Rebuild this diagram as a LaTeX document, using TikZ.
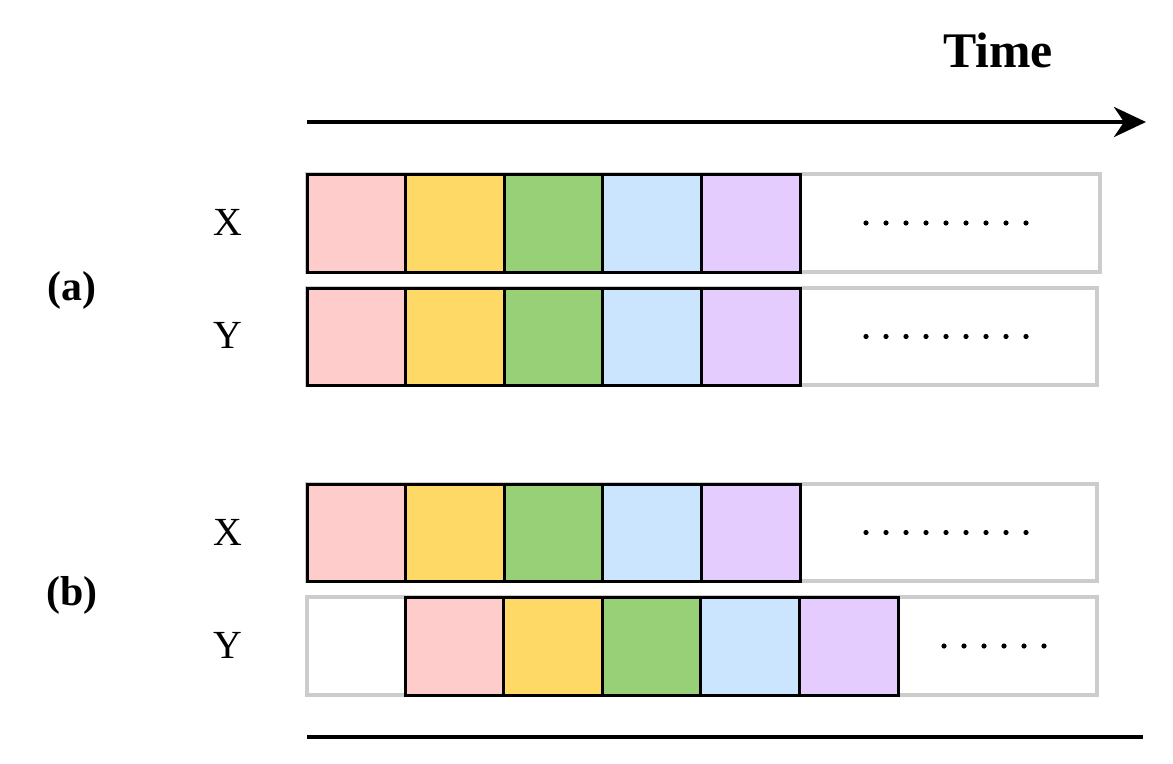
\documentclass[tikz,border=0pt]{standalone}
\usepackage{fontspec}
\setmainfont{Liberation Serif}
\usetikzlibrary{arrows.meta}
\definecolor{cA}{HTML}{FFCCCC}\definecolor{cB}{HTML}{FFD966}\definecolor{cC}{HTML}{97D077}
\definecolor{cD}{HTML}{CCE5FF}\definecolor{cE}{HTML}{E5CCFF}\definecolor{gr}{HTML}{CCCCCC}
\tikzset{outer/.style={draw=gr,line width=3.5bp},cell/.style={draw=black,line width=3bp},
lab/.style={font=\fontsize{40}{40}\selectfont},blab/.style={font=\fontsize{42}{42}\selectfont\bfseries}}
\newcommand{\myrow}[5]{% y1 y2 xstart outerEnd dotsStart ndots
\draw[outer] (307,#1) rectangle (#4,#2);
\foreach \c [count=\i from 0] in {cA,cB,cC,cD,cE}{
 \fill[\c] (#3+\i*98.6,#1) rectangle (#3+\i*98.6+98.6,#2);
 \draw[cell] (#3+\i*98.6,#1) rectangle (#3+\i*98.6+98.6,#2);}
\draw[cell] (#3,#1) rectangle (#3+493,#2);
\foreach \k in {0,...,#5}{\fill (\dotstart+\k*20,{(#1+#2)/2}) circle (2.6);}
}
\begin{document}
\begin{tikzpicture}[x=1bp,y=-1bp]
\useasboundingbox (0,0) rectangle (1173,764);
\node[blab,font=\fontsize{50}{50}\selectfont\bfseries] (time) at (998,50) {Time};
\coordinate (t1) at (307,122); \coordinate (t2) at (1146,122);
\draw[line width=4bp,-{Stealth[length=32bp,width=30bp,inset=10bp]}] (t1) -- (t2);
\def\dotstart{866}
\myrow{174}{272}{307}{1100}{8}
\myrow{288}{385}{307}{1097}{8}
\myrow{484}{581}{307}{1097}{8}
\def\dotstart{944}
\myrow{597}{695}{405}{1097}{5}
\node[lab] (xa) at (228,222) {X};
\node[lab] (ya) at (228,335) {Y};
\node[blab] (a) at (72,290) {(a)};
\node[lab] (xb) at (228,532) {X};
\node[lab] (yb) at (228,645) {Y};
\node[blab] (b) at (72,595) {(b)};
\coordinate (b1) at (307,737); \coordinate (b2) at (1143,737);
\draw[line width=4bp] (b1) -- (b2);
\end{tikzpicture}
\end{document}
